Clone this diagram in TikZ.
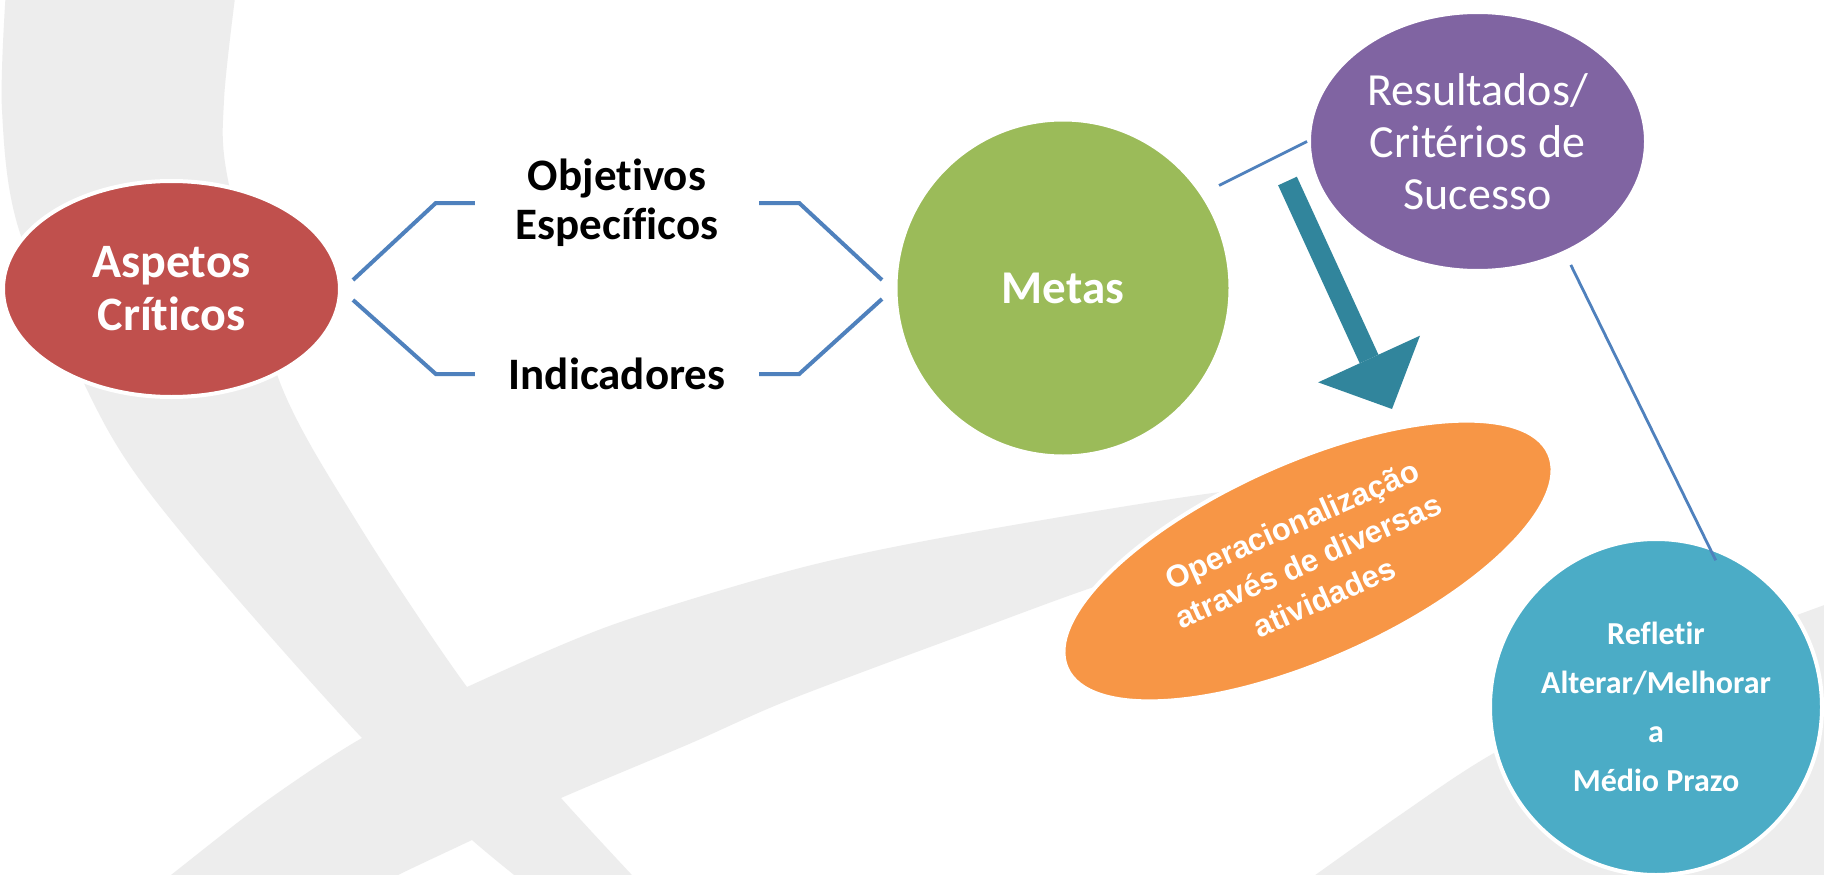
\documentclass[tikz,border=0pt]{standalone}
\usepackage{fontspec}
\usetikzlibrary{shapes.geometric,arrows.meta}
\newfontfamily\calibri[Ligatures=NoCommon]{Carlito}
\newfontfamily\arialf{Liberation Sans}
\definecolor{bgray}{HTML}{EDEDED}
\definecolor{aspred}{HTML}{C0504D}
\definecolor{metgreen}{HTML}{9BBB59}
\definecolor{respurple}{HTML}{8064A2}
\definecolor{operorange}{HTML}{F79646}
\definecolor{reflblue}{HTML}{4BACC6}
\definecolor{linkblue}{HTML}{4F81BD}
\definecolor{arrteal}{HTML}{31859C}

\begin{document}
\begin{tikzpicture}[x=1pt, y=-1pt,
	blob/.style={draw=white, line width=4pt, shape=ellipse, inner sep=0pt, align=center, text=white},
	lbl/.style={align=center, minimum width=284pt, inner sep=0pt, font=\calibri\bfseries\fontsize{45}{49}\selectfont},
	brk/.style={draw=linkblue, line width=4pt},
	link/.style={draw=linkblue, line width=2.8pt},
	bigarr/.style={draw=arrteal, line width=20.6pt, -{Triangle[width=112pt, length=55pt, line width=0pt, fill=arrteal]}}]
\useasboundingbox (0,0) rectangle (1824,875);
\clip (0,0) rectangle (1824,875);
\fill[white] (0,0) rectangle (1824,875);
% background swooshes
\fill[bgray] plot[smooth] coordinates {(6,-10) (2,110) (20,233) (105,425) (189,542) (362,738) (472,840) (552,905)}
	-- plot[smooth] coordinates {(660,905) (561,798) (467,687) (357,522) (279,380) (228,180) (224,100) (236,-10)} -- cycle;
\fill[bgray] plot[smooth] coordinates {(133,905) (171,875) (265,802) (362,738) (467,687) (612,625) (800,568) (968,533) (1236,490) (1430,478)}
	-- plot[smooth] coordinates {(1430,478) (1250,545) (1115,580) (968,633) (789,700) (689,744) (561,798) (472,840) (398,875) (340,905)} -- cycle;
\fill[bgray] plot[smooth] coordinates {(1300,886) (1400,815) (1494,753) (1650,672) (1830,603)} -- (1830,905) -- (1300,905) -- cycle;
% nodes
\node[blob, fill=aspred, minimum width=337pt, minimum height=216pt, font=\calibri\bfseries\fontsize{48}{53}\selectfont] (asp) at (171.5,289) {Aspetos\\Críticos};
\node[lbl] (obj) at (617,203) {Objetivos\\Específicos};
\node[lbl] (ind) at (617,374) {Indicadores};
\node[blob, fill=metgreen, minimum width=335pt, minimum height=337pt, font=\calibri\bfseries\fontsize{47}{52}\selectfont] (metas) at (1063,288) {Metas};
\node[blob, fill=respurple, minimum width=337pt, minimum height=259pt, font=\calibri\fontsize{46}{52}\selectfont] (res) at (1477.5,141.5) {Resultados/\\Critérios de\\Sucesso};
\node[blob, fill=operorange, rotate=24, minimum width=528pt, minimum height=198pt, font=\arialf\bfseries\fontsize{31}{40}\selectfont] (oper) at (1308,561) {Operacionalização\\através de diversas\\atividades};
\node[blob, fill=reflblue, minimum width=332pt, minimum height=336pt, font=\calibri\bfseries\fontsize{32}{49}\selectfont] (refl) at (1656,707) {Refletir\\Alterar/Melhorar\\a\\Médio Prazo};
% brackets
\draw[brk] ([shift={(11,-9)}]asp.east) -- ([xshift=-39pt]obj.west) -- (obj.west);
\draw[brk] ([shift={(11,11)}]asp.east) -- ([xshift=-39pt]ind.west) -- (ind.west);
\draw[brk] (obj.east) -- ([xshift=40pt]obj.east) -- ([shift={(-11.5,-8)}]metas.west);
\draw[brk] (ind.east) -- ([xshift=40pt]ind.east) -- ([shift={(-11.5,11)}]metas.west);
% links
\draw[link, shorten <=17pt] (metas.34) to (res.west);
\draw[link, shorten <=12pt, shorten >=-16.5pt] (res.-52.5) to (refl.72);
\coordinate (arrS) at (1287.5,181);
\coordinate (arrE) at (1392,409);
\draw[bigarr] (arrS) to (arrE);
\end{tikzpicture}
\end{document}
